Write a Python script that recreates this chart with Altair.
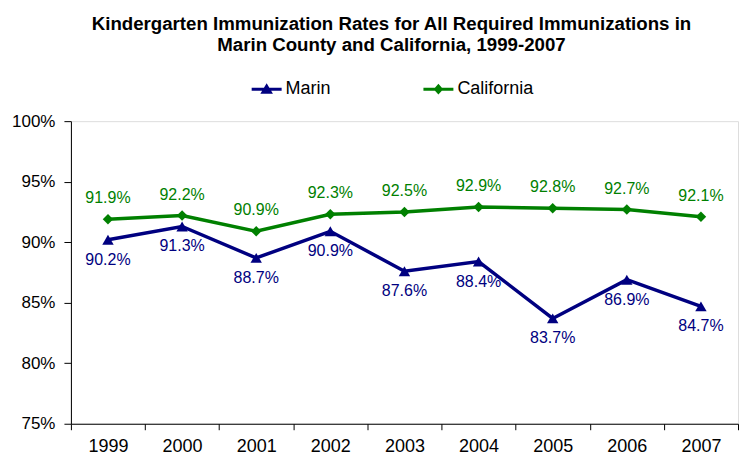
import altair as alt
import pandas as pd

years = ["1999", "2000", "2001", "2002", "2003", "2004", "2005", "2006", "2007"]
marin = [90.2, 91.3, 88.7, 90.9, 87.6, 88.4, 83.7, 86.9, 84.7]
california = [91.9, 92.2, 90.9, 92.3, 92.5, 92.9, 92.8, 92.7, 92.1]
series_names = ["Marin", "California"]
series_colors = ["#000080", "#008000"]
y_ticks = [0.75, 0.80, 0.85, 0.90, 0.95, 1.00]
title_lines = [
    "Kindergarten Immunization Rates for All Required Immunizations in",
    "Marin County and California, 1999-2007",
]

rows = []
for yr, m, c in zip(years, marin, california):
    rows.append({"year": yr, "series": "Marin", "value": m / 100})
    rows.append({"year": yr, "series": "California", "value": c / 100})
df = pd.DataFrame(rows)

FONT = "Liberation Sans"

x_enc = alt.X(
    "year:N",
    sort=years,
    scale=alt.Scale(type="band", paddingInner=0, paddingOuter=0),
    axis=alt.Axis(
        title=None, labelAngle=0, tickBand="extent", labelFontSize=18,
        tickSize=6, labelPadding=8, domainColor="#000000", tickColor="#000000",
        labelColor="#000000", labelFont=FONT,
    ),
)
y_enc = alt.Y(
    "value:Q",
    scale=alt.Scale(domain=[0.75, 1.0], nice=False, zero=False),
    axis=alt.Axis(
        title=None, format=".0%", values=y_ticks, grid=False, labelFontSize=17,
        tickSize=7, labelPadding=9, domainColor="#000000", tickColor="#000000",
        labelColor="#000000", labelFont=FONT,
    ),
)

base = alt.Chart(df)

marin_f = alt.datum.series == "Marin"
cal_f = alt.datum.series == "California"

cal_line = base.transform_filter(cal_f).mark_line(color=series_colors[1], strokeWidth=3.5).encode(x=x_enc, y=y_enc)
marin_line = base.transform_filter(marin_f).mark_line(color=series_colors[0], strokeWidth=3.5).encode(x=x_enc, y=y_enc)
cal_pts = base.transform_filter(cal_f).mark_point(
    shape="diamond", filled=True, size=110, opacity=1, color=series_colors[1]
).encode(x=x_enc, y=y_enc)
marin_pts = base.transform_filter(marin_f).mark_point(
    shape="triangle-up", filled=True, size=130, opacity=1, color=series_colors[0]
).encode(x=x_enc, y=y_enc)
cal_txt = base.transform_filter(cal_f).mark_text(
    dy=-21, fontSize=16, font=FONT, color=series_colors[1]
).encode(x=x_enc, y=y_enc, text=alt.Text("value:Q", format=".1%"))
marin_txt = base.transform_filter(marin_f).mark_text(
    dy=20, fontSize=16, font=FONT, color=series_colors[0]
).encode(x=x_enc, y=y_enc, text=alt.Text("value:Q", format=".1%"))

# legend symbols: line segment + marker (path units span -1..1 of the symbol box)
tri_path = "M-1,-0.1H1V0.1H-1Z M0,-0.4L0.42,0.3H-0.42Z"
dia_path = "M-1,-0.1H1V0.1H-1Z M0,-0.36L0.32,0L0,0.36L-0.32,0Z"

leg = alt.Legend(
    title=None, orient="none", legendX=181, legendY=-47, direction="horizontal",
    symbolSize=900, symbolOpacity=1, symbolStrokeWidth=0, labelFontSize=18,
    labelFont=FONT, labelColor="#000000", columnPadding=92, padding=0, labelOffset=4,
)
legend_layer = base.mark_point(filled=True, opacity=0).encode(
    x=x_enc, y=y_enc,
    color=alt.Color("series:N", scale=alt.Scale(domain=series_names, range=series_colors), legend=leg),
    shape=alt.Shape("series:N", scale=alt.Scale(domain=series_names, range=[tri_path, dia_path]), legend=leg),
)

chart = alt.layer(
    legend_layer, cal_line, marin_line, cal_pts, marin_pts, cal_txt, marin_txt
).properties(
    width=668, height=303,
    padding={"left": 3, "top": 6, "right": 0, "bottom": 0},
    title=alt.TitleParams(
        text=title_lines, fontSize=18.7, font=FONT, fontWeight="bold", anchor="middle",
        frame="group", dx=-13, lineHeight=21, offset=20, color="#000000",
    ),
).configure_view(stroke=None).configure(background="white")

chart.save("out.html", embed_options={"renderer": "svg", "actions": False})
